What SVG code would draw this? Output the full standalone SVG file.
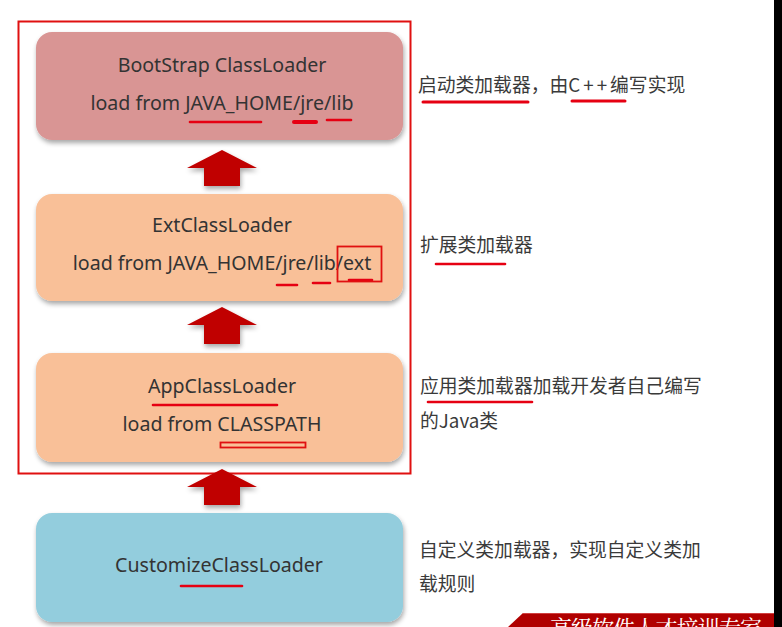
<svg xmlns="http://www.w3.org/2000/svg" width="782" height="627" viewBox="0 0 782 627">
<style>
.lbl{font-family:"Noto Sans","Open Sans","Liberation Sans",sans-serif;font-size:19.6px;fill:#333333;text-anchor:middle}
.note{font-family:"Noto Sans CJK SC","Noto Sans",sans-serif;font-size:18.8px;fill:#3a3a3a}
.ul{stroke:#E60012;stroke-width:2.6;stroke-linecap:round;fill:none}
.arrow{fill:#C00000}
</style>
<defs>
<filter id="sh" x="-10%" y="-10%" width="120%" height="130%">
<feGaussianBlur in="SourceAlpha" stdDeviation="2.5"/>
<feOffset dx="1" dy="3" result="b"/>
<feComponentTransfer><feFuncA type="linear" slope="0.35"/></feComponentTransfer>
<feMerge><feMergeNode/><feMergeNode in="SourceGraphic"/></feMerge>
</filter>
</defs>
<rect x="0" y="0" width="782" height="627" fill="#ffffff"/>
<rect x="774" y="0" width="8" height="627" fill="#000000"/>

<rect id="frame" x="18.5" y="21.5" width="392" height="452" fill="none" stroke="#E01010" stroke-width="2"/>

<g id="bootstrap">
<rect x="36" y="32" width="367" height="108" rx="16" fill="#D99594" filter="url(#sh)"/>
<text class="lbl" x="222" y="72">BootStrap ClassLoader</text>
<text class="lbl" x="222" y="110">load from JAVA_HOME/jre/lib</text>
<line class="ul" x1="190" y1="122" x2="261" y2="122"/>
<line class="ul" x1="294" y1="122" x2="316" y2="122" style="stroke-width:4"/>
<line class="ul" x1="327" y1="120" x2="351" y2="120"/>
</g>

<g id="ext">
<rect x="36" y="194" width="367" height="107" rx="16" fill="#F9C098" filter="url(#sh)"/>
<text class="lbl" x="222" y="270" dy="-38">ExtClassLoader</text>
<text class="lbl" x="222" y="270">load from JAVA_HOME/jre/lib/ext</text>
<line class="ul" x1="277" y1="285" x2="297" y2="285"/>
<line class="ul" x1="313" y1="283" x2="330" y2="283"/>
<line class="ul" x1="349" y1="280" x2="372" y2="280"/>
<rect x="337.5" y="246.5" width="44" height="35" fill="none" stroke="#E01010" stroke-width="1.8"/>
</g>

<g id="app">
<rect x="36" y="353" width="367" height="109" rx="16" fill="#F9C098" filter="url(#sh)"/>
<text class="lbl" x="222" y="393">AppClassLoader</text>
<line class="ul" x1="153" y1="405" x2="277" y2="405"/>
<text class="lbl" x="222" y="431">load from CLASSPATH</text>
<rect x="220.5" y="442.5" width="85" height="5" fill="none" stroke="#E01010" stroke-width="1.8"/>
</g>

<g id="customize">
<rect x="36" y="513" width="367" height="109" rx="16" fill="#93CDDD" filter="url(#sh)"/>
<text class="lbl" x="219" y="572">CustomizeClassLoader</text>
<line class="ul" x1="181" y1="586" x2="242" y2="586"/>
</g>

<g id="connectors">
<polygon class="arrow" filter="url(#sh)" points="222,150 257,168 240,168 240,186 204,186 204,168 187,168"/>
<polygon class="arrow" filter="url(#sh)" points="222,307 257,325 240,325 240,344 204,344 204,325 187,325"/>
<polygon class="arrow" filter="url(#sh)" points="222,469 257,487 240,487 240,505 204,505 204,487 187,487"/>
</g>

<g id="notes">
<text class="note" x="418" y="92">启动类加载器，由<tspan letter-spacing="3">C++</tspan>编写实现</text>
<line class="ul" x1="423" y1="102" x2="528" y2="102" style="stroke-width:3"/>
<line class="ul" x1="572" y1="101" x2="625" y2="101" style="stroke-width:3"/>
<text class="note" x="420" y="252">扩展类加载器</text>
<line class="ul" x1="436" y1="264" x2="505" y2="264"/>
<text class="note" x="420" y="393">应用类加载器加载开发者自己编写</text>
<line class="ul" x1="428" y1="402" x2="532" y2="402"/>
<text class="note" x="420" y="428">的Java类</text>
<text class="note" x="419" y="557">自定义类加载器，实现自定义类加</text>
<text class="note" x="419" y="591">载规则</text>
</g>

<g id="banner">
<polygon points="508,627 523,613 774,613 774,627" fill="#B00000"/>
<line x1="523" y1="613.5" x2="774" y2="613.5" stroke="#D04040" stroke-width="1"/>
<text x="550" y="636" font-family="'Noto Serif CJK SC','Noto Sans CJK SC',serif" font-size="22" fill="#ffffff" textLength="212">高级软件人才培训专家</text>
</g>
</svg>
